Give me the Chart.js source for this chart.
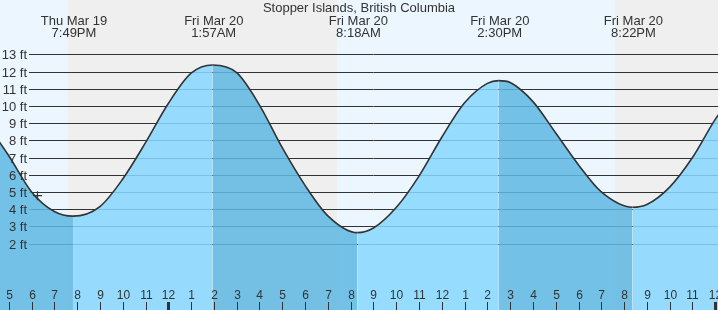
<!DOCTYPE html>
<html>
<head>
<meta charset="utf-8">
<script src="https://cdn.jsdelivr.net/npm/chart.js@4.4.1/dist/chart.umd.min.js"></script>
<style>
html, body { margin: 0; padding: 0; background: #fff; }
#wrap { width: 718px; height: 310px; }
</style>
</head>
<body>
<div id="wrap"><canvas id="tideChart" width="718" height="310"></canvas></div>
<script>
// time is in hours counted from Thu Mar 19 00:00
var tideHours = [16, 17, 18, 19, 19.817, 21, 22, 23, 24, 25, 25.95, 27, 28, 29, 30, 31, 32.3,
                 33, 34, 35, 36, 37, 38, 38.5, 39, 40, 41, 42, 43, 44.367, 45, 46, 47, 48, 49];
var tideFeet  = [9.0, 7.1, 5.0, 3.86, 3.59, 4.15, 5.75, 7.86, 10.14, 11.9, 12.38, 11.93, 10.05, 7.57, 5.38, 3.61, 2.63,
                 2.9, 4.09, 5.92, 8.18, 10.18, 11.31, 11.47, 11.36, 10.25, 8.42, 6.57, 5.0, 4.11, 4.27, 5.28, 7.0, 9.22, 11.0];

var eventHours = [19.817, 25.95, 32.3, 38.5, 44.367];
var eventDays  = ['Thu Mar 19', 'Fri Mar 20', 'Fri Mar 20', 'Fri Mar 20', 'Fri Mar 20'];
var eventTimes = ['7:49PM', '1:57AM', '8:18AM', '2:30PM', '8:22PM'];

var nightStart = [19.6, 43.6];
var nightEnd   = [31.39, 49];

var feetTicks  = [2, 3, 4, 5, 6, 7, 8, 9, 10, 11, 12, 13];
var hourTicks  = [17, 18, 19, 20, 21, 22, 23, 24, 25, 26, 27, 28, 29, 30, 31, 32,
                  33, 34, 35, 36, 37, 38, 39, 40, 41, 42, 43, 44, 45, 46, 47, 48];
var hourLabels = ['5', '6', '7', '8', '9', '10', '11', '12', '1', '2', '3', '4', '5', '6', '7', '8',
                  '9', '10', '11', '12', '1', '2', '3', '4', '5', '6', '7', '8', '9', '10', '11', '12'];

var nowHour = 18.26, nowFeet = 4.78;
var chartTitle = 'Stopper Islands, British Columbia';

var dayColor   = '#ebf6ff',
    nightColor = '#efefef',
    riseColor  = 'rgba(135, 215, 255, 0.86)',
    fallColor  = 'rgba(96, 184, 226, 0.86)',
    ink        = '#333';
var font = '"Liberation Sans", Arial, sans-serif';

var tidePoints = tideHours.map(function (h, i) { return { x: h, y: tideFeet[i] }; });

var tideDecor = {
  id: 'tideDecor',
  beforeDatasetsDraw: function (chart) {
    var ctx = chart.ctx, a = chart.chartArea, xs = chart.scales.x, ys = chart.scales.y;
    ctx.save();
    ctx.fillStyle = dayColor;
    ctx.fillRect(a.left, a.top, a.right - a.left, a.bottom - a.top);
    ctx.fillStyle = nightColor;
    nightStart.forEach(function (s, i) {
      var x0 = Math.max(a.left, Math.round(xs.getPixelForValue(s)));
      var x1 = Math.min(a.right, Math.round(xs.getPixelForValue(nightEnd[i])));
      ctx.fillRect(x0, a.top, x1 - x0, a.bottom - a.top);
    });
    ctx.strokeStyle = ink;
    ctx.lineWidth = 1;
    feetTicks.forEach(function (v) {
      var py = Math.round(ys.getPixelForValue(v)) + 0.5;
      ctx.beginPath();
      ctx.moveTo(29, py);
      ctx.lineTo(a.right, py);
      ctx.stroke();
    });
    ctx.restore();
  },
  afterDatasetsDraw: function (chart) {
    var ctx = chart.ctx, a = chart.chartArea, xs = chart.scales.x, ys = chart.scales.y;
    ctx.save();
    ctx.fillStyle = ink;

    // feet labels
    ctx.font = '13px ' + font;
    ctx.textAlign = 'right';
    ctx.textBaseline = 'alphabetic';
    feetTicks.forEach(function (v) {
      ctx.fillText(v + ' ft', 27, Math.round(ys.getPixelForValue(v)) + 5);
    });

    // hour ticks along the bottom
    ctx.font = '12px ' + font;
    ctx.textAlign = 'center';
    hourTicks.forEach(function (h, i) {
      var px = Math.round(xs.getPixelForValue(h));
      var w = (h % 24 === 0) ? 3 : 1;
      ctx.fillRect(px - Math.floor(w / 2), a.bottom - 8, w, 8);
      ctx.fillText(hourLabels[i], px + 0.5, a.bottom - 11);
    });

    // title and high / low labels
    ctx.font = '13px ' + font;
    ctx.fillText(chartTitle, (a.left + a.right) / 2, 12);
    eventHours.forEach(function (h, i) {
      var px = xs.getPixelForValue(h) + 1;
      ctx.fillText(eventDays[i], px, 24.5);
      ctx.fillText(eventTimes[i], px, 36.5);
    });
    ctx.restore();
  }
};

new Chart(document.getElementById('tideChart').getContext('2d'), {
  type: 'line',
  data: {
    datasets: [{
      data: [{ x: nowHour, y: nowFeet }],
      showLine: false,
      pointStyle: 'cross',
      pointRadius: 4.5,
      borderColor: ink,
      borderWidth: 1.2,
      backgroundColor: ink
    }, {
      data: tidePoints,
      borderColor: ink,
      borderWidth: 1.6,
      pointRadius: 0,
      cubicInterpolationMode: 'monotone',
      fill: 'start',
      backgroundColor: riseColor,
      segment: {
        backgroundColor: function (c) { return c.p1.parsed.y < c.p0.parsed.y ? fallColor : riseColor; }
      }
    }]
  },
  options: {
    responsive: false,
    animation: false,
    events: [],
    layout: { padding: 0, autoPadding: false },
    scales: {
      x: { type: 'linear', min: 16.615, max: 48.12, display: false },
      y: { type: 'linear', min: -1.866, max: 16.157, display: false }
    },
    plugins: {
      legend: { display: false },
      tooltip: { enabled: false },
      title: { display: false }
    }
  },
  plugins: [tideDecor]
});
</script>
</body>
</html>
